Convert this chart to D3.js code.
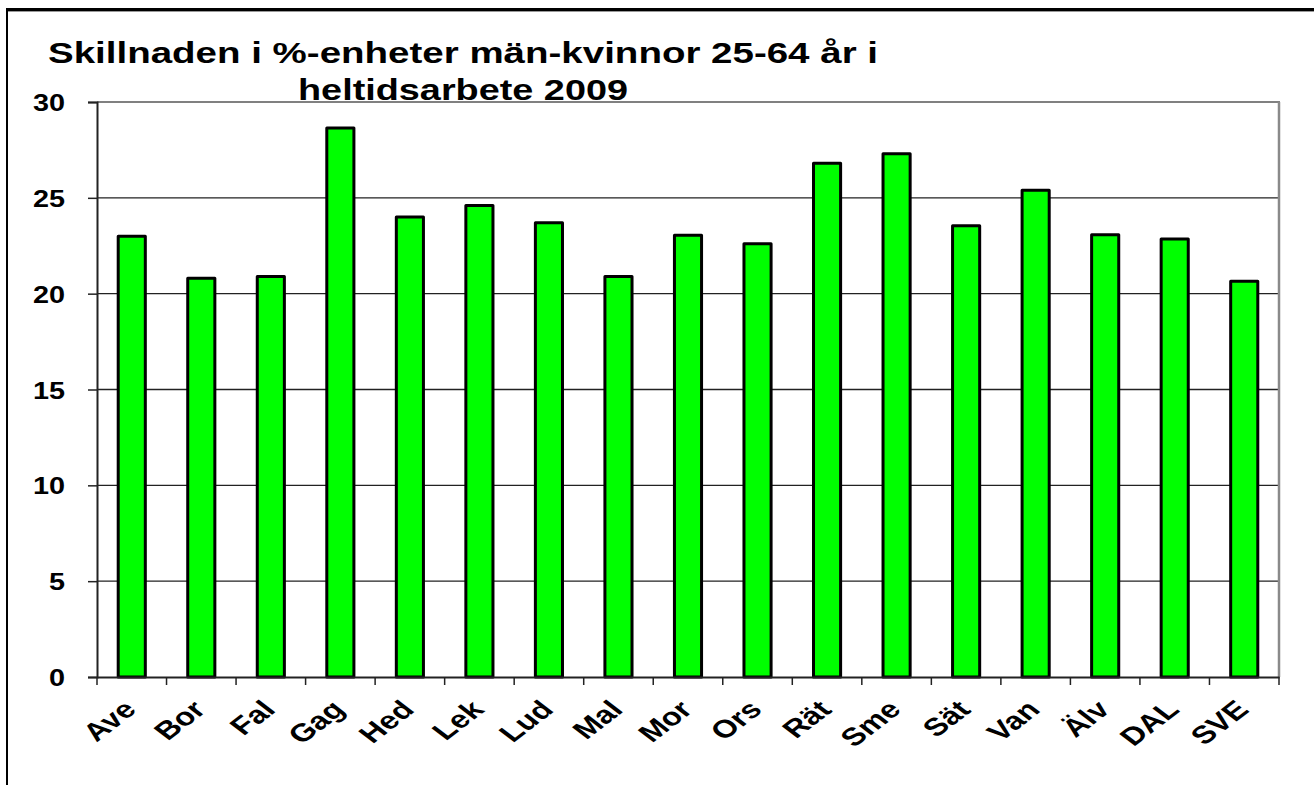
<!DOCTYPE html>
<html>
<head>
<meta charset="utf-8">
<script src="https://cdn.jsdelivr.net/npm/d3@7"></script>
<style>
  body { margin: 0; background: #fff; }
  text { font-family: "Liberation Sans", Arial, sans-serif; font-weight: bold; fill: #000; }
</style>
</head>
<body>
<div id="chart"></div>
<script>
// data
const categories = ["Ave", "Bor", "Fal", "Gag", "Hed", "Lek", "Lud", "Mal", "Mor", "Ors", "Rät", "Sme", "Sät", "Van", "Älv", "DAL", "SVE"];
const values = [23.0, 20.8, 20.9, 28.65, 24.0, 24.6, 23.7, 20.9, 23.05, 22.6, 26.8, 27.3, 23.55, 25.4, 23.07, 22.85, 20.65];
const yTicks = [0, 5, 10, 15, 20, 25, 30];
const titleLines = ["Skillnaden i %-enheter män-kvinnor 25-64 år i", "heltidsarbete 2009"];

//size
const width = 1314;
const height = 785;
const plot = { left: 97, right: 1279, top: 102, bottom: 677 };
const stretch = 1.3; // the picture is wider than its text would normally be

//scale
const x = d3.scaleBand().domain(categories).range([plot.left, plot.right]);
const y = d3.scaleLinear().domain([0, 30]).range([plot.bottom, plot.top]);

const svg = d3.select("#chart").append("svg")
  .attr("width", width)
  .attr("height", height);

//outer frame
svg.append("line").attr("x1", 6).attr("x2", width).attr("y1", 9.5).attr("y2", 9.5)
  .attr("stroke", "#000").attr("stroke-width", 3);
svg.append("line").attr("x1", 6).attr("x2", width).attr("y1", 11.5).attr("y2", 11.5)
  .attr("stroke", "#999").attr("stroke-width", 1);
svg.append("line").attr("x1", 7).attr("x2", 7).attr("y1", 8).attr("y2", height)
  .attr("stroke", "#000").attr("stroke-width", 2);

//title
svg.append("text").attr("x", 48).attr("y", 63).attr("font-size", 29)
  .attr("textLength", 830).attr("lengthAdjust", "spacingAndGlyphs")
  .text(titleLines[0]);
svg.append("text").attr("x", 298).attr("y", 100).attr("font-size", 29)
  .attr("textLength", 330).attr("lengthAdjust", "spacingAndGlyphs")
  .text(titleLines[1]);

//grid
svg.selectAll("line.grid")
  .data(yTicks.filter((d) => d > 0 && d < 30))
  .join("line")
  .attr("class", "grid")
  .attr("x1", plot.left).attr("x2", plot.right)
  .attr("y1", (d) => y(d)).attr("y2", (d) => y(d))
  .attr("stroke", "#222").attr("stroke-width", 1.3);

//plot border top/right
svg.append("line").attr("x1", plot.left).attr("x2", plot.right + 1).attr("y1", plot.top).attr("y2", plot.top)
  .attr("stroke", "#808080").attr("stroke-width", 2);
svg.append("line").attr("x1", plot.right).attr("x2", plot.right).attr("y1", plot.top).attr("y2", plot.bottom)
  .attr("stroke", "#8a8a8a").attr("stroke-width", 2.5);

//bars
const barW = x.bandwidth() * 0.39;
svg.selectAll("rect.bar")
  .data(categories)
  .join("rect")
  .attr("class", "bar")
  .attr("x", (d) => x(d) + (x.bandwidth() - barW) / 2)
  .attr("y", (d, i) => y(values[i]))
  .attr("width", barW)
  .attr("height", (d, i) => y(0) - y(values[i]))
  .attr("fill", "#00ff00")
  .attr("stroke", "#000")
  .attr("stroke-width", 3)
  .attr("stroke-linejoin", "round");

//y axis
const yAxis = svg.append("g").attr("transform", `translate(${plot.left},0)`)
  .call(d3.axisLeft(y).tickValues(yTicks).tickSize(9).tickPadding(23).tickFormat(d3.format("d")));
yAxis.select(".domain").attr("stroke", "#222").attr("stroke-width", 2);
yAxis.selectAll(".tick line").attr("stroke", "#222").attr("stroke-width", 1.5);
yAxis.selectAll(".tick text")
  .attr("font-size", 24)
  .attr("font-family", null)
  .attr("dy", "0.36em")
  .attr("transform", function () {
    const xx = +d3.select(this).attr("x");
    return `translate(${xx},0) scale(1.2,1) translate(${-xx},0)`;
  });

//x axis
const xAxis = svg.append("g").attr("transform", `translate(0,${plot.bottom})`)
  .call(d3.axisBottom(x).tickSize(0).tickFormat(""));
xAxis.select(".domain").attr("stroke", "#222").attr("stroke-width", 2);
svg.selectAll("line.xtick")
  .data([...categories.map((d) => x(d)), plot.right])
  .join("line")
  .attr("class", "xtick")
  .attr("x1", (d) => d).attr("x2", (d) => d)
  .attr("y1", plot.bottom).attr("y2", plot.bottom + 8)
  .attr("stroke", "#222").attr("stroke-width", 1.5);

svg.selectAll("text.xlabel")
  .data(categories)
  .join("text")
  .attr("class", "xlabel")
  .attr("font-size", 25)
  .attr("text-anchor", "end")
  .attr("transform", (d) => `translate(${x(d) + x.bandwidth() / 2 + 6},${plot.bottom + 34}) scale(${stretch},1) rotate(-45)`)
  .text((d) => d);
</script>
</body>
</html>
